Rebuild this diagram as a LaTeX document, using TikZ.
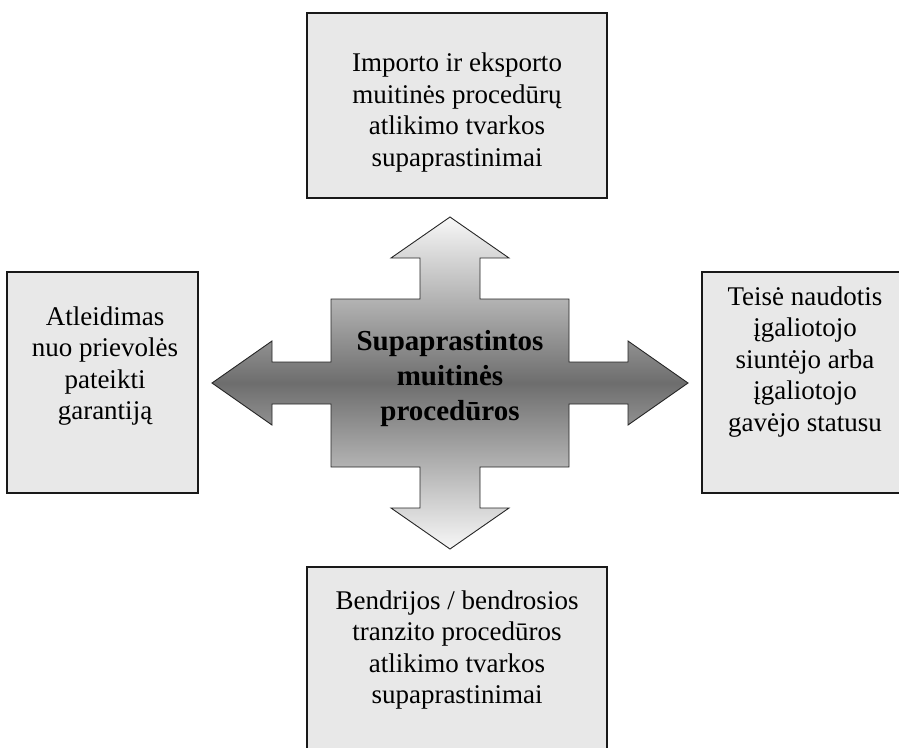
\documentclass[tikz,border=0pt]{standalone}
\usepackage{fontspec}
\setmainfont{Liberation Serif}
\begin{document}
\begin{tikzpicture}[x=1pt,y=-1pt,
  infobox/.style={draw=black!90, line width=1.4pt, fill=black!9, rectangle, inner sep=0pt},
  boxtext/.style={anchor=north, inner sep=0pt, align=center,
    font=\fontsize{27}{31.5}\selectfont},
  hubtext/.style={anchor=north, inner sep=0pt, align=center,
    font=\fontsize{29}{35}\selectfont\bfseries},
  crossfill/.style={draw=black!85, line width=0.9pt, top color=black!3, bottom color=black!3, middle color=black!57}]
\useasboundingbox (0,0) rectangle (899,747);
\clip (0,0) rectangle (899,747);

% four surrounding boxes
\node[infobox, minimum width=300pt, minimum height=185pt] (topbox) at (457,105.5) {};
\node[infobox, minimum width=191pt, minimum height=221pt] (leftbox) at (102.5,382.5) {};
\node[infobox, minimum width=206pt, minimum height=221pt] (rightbox) at (805,382.5) {};
\node[infobox, minimum width=300pt, minimum height=223pt] (bottombox) at (457,678.5) {};

% central four-way arrow
\path[crossfill]
  (450,217) -- (509,258) -- (480,258) -- (480,299) -- (569,299) -- (569,362)
  -- (628,362) -- (628,341) -- (688,383) -- (628,425) -- (628,404) -- (569,404)
  -- (569,467) -- (480,467) -- (480,508) -- (509,508) -- (450,549) -- (391,508)
  -- (420,508) -- (420,467) -- (331,467) -- (331,404) -- (272,404) -- (272,425)
  -- (212,383) -- (272,341) -- (272,362) -- (331,362) -- (331,299) -- (420,299)
  -- (420,258) -- (391,258) -- cycle;

% texts (first line carries a strut so the top edge sits 0.7 baselineskip above its baseline)
\node[hubtext] (hub) at (450,350-24.5) {\strut Supaprastintos\\muitinės\\procedūros};
\node[boxtext] (toptext) at (457,71.7-22.05) {\strut Importo ir eksporto\\muitinės procedūrų\\atlikimo tvarkos\\supaprastinimai};
\node[boxtext] (lefttext) at (105,325-22.05) {\strut Atleidimas\\nuo prievolės\\pateikti\\garantiją};
\node[boxtext] (righttext) at (805,305-22.05) {\strut Teisė naudotis\\įgaliotojo\\siuntėjo arba\\įgaliotojo\\gavėjo statusu};
\node[boxtext] (bottomtext) at (457,609-22.05) {\strut Bendrijos / bendrosios\\tranzito procedūros\\atlikimo tvarkos\\supaprastinimai};
\end{tikzpicture}
\end{document}
